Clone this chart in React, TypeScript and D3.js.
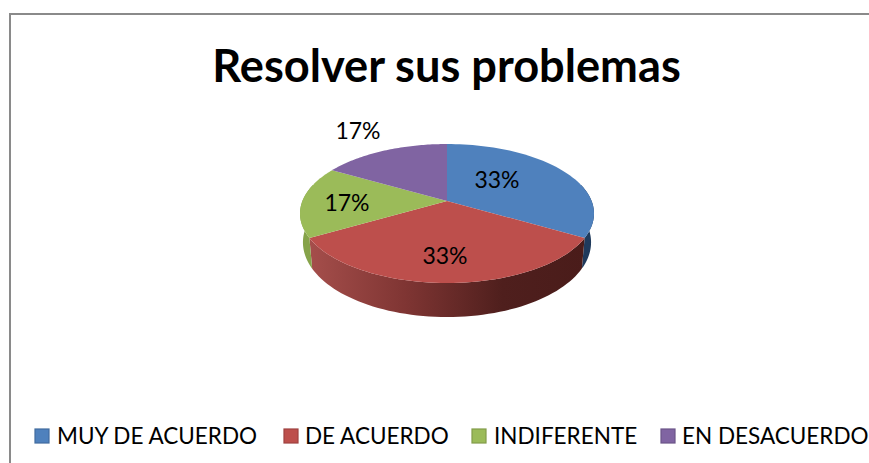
import React from "react";
import * as d3 from "d3";

const titleText = "Resolver sus problemas";
const categories = ["MUY DE ACUERDO", "DE ACUERDO", "INDIFERENTE", "EN DESACUERDO"];
const values = [33.33, 33.33, 16.67, 16.67];
const valueLabels = ["33%", "33%", "17%", "17%"];
const colors = ["#4f81bd", "#bd4f4c", "#9bbb59", "#8064a2"];
const wallColors = ["#1f3a5c", "url(#redWall)", "#86a34a", "#5f4a7a"];
const legendSwatchX = [35, 284, 472, 661];
const legendTextX = [57, 305, 494, 682];
const labelPos: [number, number][] = [[497, 188], [445, 264], [347, 211], [358, 139]];

const W = 869, H = 463;
const cx = 447, cy = 201;
const A = 144.6, B = 67.25, K = 0.18, DEPTH = 27.9, SHRINK = 0.98;

const project = (theta: number, lower = false): [number, number] => {
  const xc = Math.sin(theta), yc = -Math.cos(theta);
  const w = 1 - K * yc;
  const sx = (A * xc) / w, sy = (B * yc) / w;
  return lower ? [cx + sx * SHRINK, cy + sy + DEPTH / w] : [cx + sx, cy + sy];
};

const arcs = d3.pie<number>().sort(null).startAngle(0).endAngle(2 * Math.PI)(values);
const line = d3.line().curve(d3.curveLinear);
const samples = (a: number, b: number) => d3.range(0, 61).map((i) => a + ((b - a) * i) / 60);

const topPath = (a: number, b: number) =>
  line([[cx, cy], ...samples(a, b).map((t) => project(t))])! + "Z";

const wallPath = (a0: number, b0: number) => {
  const a = Math.max(a0, Math.PI * 0.42), b = Math.min(b0, Math.PI * 1.58);
  if (b <= a) return null;
  const s = samples(a, b);
  return line([...s.map((t) => project(t)), ...s.slice().reverse().map((t) => project(t, true))])! + "Z";
};

export default function App() {
  return (
    <svg width={W} height={H} viewBox={`0 0 ${W} ${H}`} style={{ position: "absolute", left: 0, top: 0, display: "block", background: "#fff" }}>
      <defs>
        <linearGradient id="redWall" gradientUnits="userSpaceOnUse" x1={309} x2={585} y1={0} y2={0}>
          <stop offset="0" stopColor="#a54e4b" />
          <stop offset="0.35" stopColor="#7f3533" />
          <stop offset="0.7" stopColor="#4f1f1d" />
          <stop offset="1" stopColor="#4a1c1a" />
        </linearGradient>
      </defs>
      <path d={`M${W} 14H10V${H}`} fill="none" stroke="#8a8a8a" strokeWidth={2} />
      <text x={446.5} y={82} textAnchor="middle" fontFamily="Lato, 'Open Sans', sans-serif" fontWeight={700} fontSize={45.2} fill="#000">{titleText}</text>
      {arcs.map((d, i) => {
        const p = wallPath(d.startAngle, d.endAngle);
        return p ? <path key={i} d={p} fill={wallColors[i]} /> : null;
      })}
      {arcs.map((d, i) => (
        <path key={i} d={topPath(d.startAngle, d.endAngle)} fill={colors[i]} />
      ))}
      {labelPos.map(([x, y], i) => (
        <text key={i} x={x} y={y} textAnchor="middle" fontFamily="Lato, sans-serif" fontSize={23} fill="#000">{valueLabels[i]}</text>
      ))}
      {categories.map((c, i) => (
        <g key={c}>
          <rect x={legendSwatchX[i]} y={429} width={14} height={14} fill={colors[i]} stroke={d3.color(colors[i])!.darker(0.5).formatHex()} strokeWidth={1.2} />
          <text x={legendTextX[i]} y={444} fontFamily="Lato, sans-serif" fontSize={22.5} fill="#000">{c}</text>
        </g>
      ))}
    </svg>
  );
}
